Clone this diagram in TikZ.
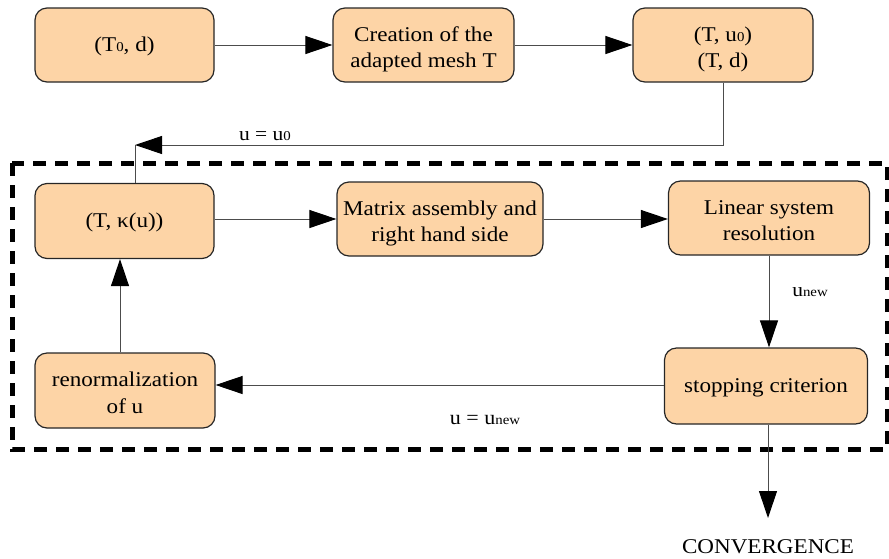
\documentclass[tikz,border=0pt]{standalone}
\usepackage{fontspec}
\setmainfont{Liberation Serif}[FakeStretch=1.1]
\usetikzlibrary{arrows.meta}
\definecolor{boxfill}{RGB}{253,212,166}
\newcommand\lowsub[1]{{\fontsize{13.5}{13.5}\selectfont #1}}
% struts fixing the text position inside boxes
\newcommand\topone{\rule{0pt}{19pt}}
\newcommand\bottomone{\rule[-5.5pt]{0pt}{5.5pt}}
\newcommand\toptwo{\rule{0pt}{24pt}}
\newcommand\bottomtwo{\rule[-5pt]{0pt}{5pt}}
\begin{document}
\begin{tikzpicture}[x=1pt,y=-1pt,
  box/.style={draw=black!85, line width=1.2pt, fill=boxfill, rounded corners=12pt,
    align=center, inner sep=0pt, font=\fontsize{21}{26.5}\selectfont},
  conn/.style={draw=black!70, line width=1pt, -{Triangle[length=27pt,width=18pt,color=black]}},
  plain/.style={draw=black!70, line width=1pt},
  lbl/.style={font=\fontsize{19.5}{21}\selectfont, inner sep=0pt},
  frame/.style={draw=black, line width=5pt, dash pattern=on 13pt off 9pt}]
\useasboundingbox (0,0) rectangle (889,558);
% dashed frame
\draw[frame] (12,163) rectangle (887,449);
% boxes
\node[box, minimum width=179pt, minimum height=74pt] (A) at (124.5,45) {\topone(T\lowsub{0}, d)\bottomone};
\node[box, minimum width=181pt, minimum height=74pt] (B) at (423.5,45) {\toptwo Creation of the\\adapted mesh T\bottomtwo};
\node[box, minimum width=180pt, minimum height=74pt] (C) at (723,45) {\toptwo(T, u\lowsub{0})\\(T, d)\bottomtwo};
\node[box, minimum width=179pt, minimum height=75pt] (D) at (124.5,221) {\topone(T, κ(u))\bottomone};
\node[box, minimum width=206pt, minimum height=74pt] (E) at (440,219) {\toptwo Matrix assembly and\\right hand side\bottomtwo};
\node[box, minimum width=201pt, minimum height=74pt] (F) at (769,218) {\toptwo Linear system\\resolution\bottomtwo};
\node[box, minimum width=203pt, minimum height=76pt] (G) at (766,386) {\topone stopping criterion\bottomone};
\node[box, minimum width=180pt, minimum height=75pt] (H) at (125,390.5) {\toptwo renormalization\\of u\bottomtwo};
\node[font=\fontsize{21}{23}\selectfont, inner sep=0pt] (cv) at (768,547) {CONVERGENCE};
% labels
\node[lbl] (l1) at (265,136) {u = u\lowsub{0}};
\node[lbl] (l2) at (810,292) {u\lowsub{new}};
\node[lbl, font=\fontsize{20}{22}\selectfont] (l3) at (485,420) {u = u\lowsub{new}};
% connectors
\coordinate (k) at (135,145);
\coordinate (ce) at (768,518);
\draw[conn] (A.east) -- (B.west);
\draw[conn] (B.east) -- (C.west);
\draw[conn] (C.south) -- (C.south |- k) -- (k);
\draw[plain] (D.north -| k) -- (k);
\draw[conn] (D.east |- E.west) -- (E.west);
\draw[conn] (E.east) -- (E.east -| F.west);
\draw[conn] (F.south) -- (F.south |- G.north);
\draw[conn] (G.west |- 0,385) -- (H.east |- 0,385);
\draw[conn] ([xshift=-5pt]H.north) -- ([xshift=-5pt]H.north |- D.south);
\draw[conn] (G.south -| ce) -- (ce);
\end{tikzpicture}
\end{document}
